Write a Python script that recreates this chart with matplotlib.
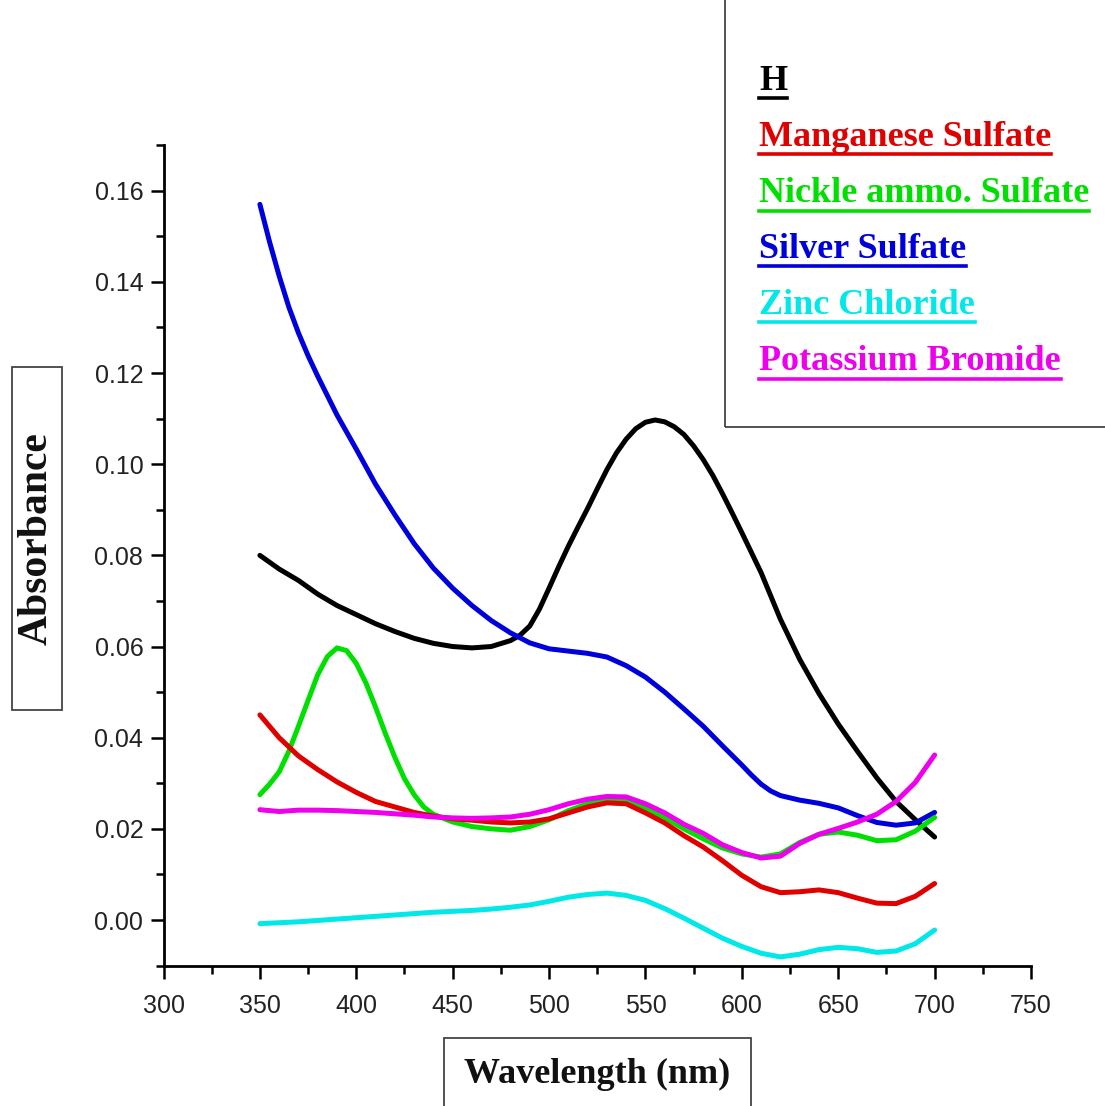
import matplotlib
matplotlib.use("Agg")
import matplotlib.pyplot as plt
from matplotlib import font_manager
from matplotlib.patches import Rectangle
from matplotlib.lines import Line2D
from matplotlib.ticker import MultipleLocator

# ---------------- data ----------------
wl = [350, 360, 370, 380, 390, 400, 410, 420, 430, 440, 450, 460, 470, 480, 490,
      500, 510, 520, 530, 540, 550, 560, 570, 580, 590, 600, 610, 620, 630, 640,
      650, 660, 670, 680, 690, 700]

wl_h = [350, 360, 370, 380, 390, 400, 410, 420, 430, 440, 450, 460, 470, 480, 485,
        490, 495, 500, 505, 510, 515, 520, 525, 530, 535, 540, 545, 550, 555, 560,
        565, 570, 575, 580, 585, 590, 595, 600, 610, 620, 630, 640, 650, 660, 670,
        680, 690, 700]
h_blank = [0.0800, 0.0770, 0.0745, 0.0715, 0.0690, 0.0670, 0.0650, 0.0633, 0.0618, 0.0607,
           0.0600, 0.0597, 0.0600, 0.0613, 0.0625, 0.0645, 0.0682, 0.0728, 0.0775, 0.0820,
           0.0862, 0.0903, 0.0946, 0.0988, 0.1025, 0.1055, 0.1078, 0.1092, 0.1097, 0.1093,
           0.1082, 0.1065, 0.1040, 0.1010, 0.0975, 0.0935, 0.0893, 0.0850, 0.0762, 0.0660,
           0.0572, 0.0497, 0.0430, 0.0370, 0.0312, 0.0260, 0.0220, 0.0182]

wl_ag = [350, 355, 360, 365, 370, 375, 380, 390, 400, 410, 420, 430, 440, 450, 460,
         470, 480, 490, 500, 510, 520, 530, 540, 550, 560, 570, 580, 590, 600, 605,
         610, 615, 620, 630, 640, 650, 660, 670, 680, 690, 700]
silver = [0.1570, 0.1488, 0.1413, 0.1345, 0.1288, 0.1238, 0.1193, 0.1108, 0.1033, 0.0956,
          0.0889, 0.0826, 0.0772, 0.0728, 0.0690, 0.0657, 0.0630, 0.0608, 0.0595, 0.0590,
          0.0585, 0.0577, 0.0558, 0.0533, 0.0500, 0.0463, 0.0425, 0.0382, 0.0340, 0.0318,
          0.0298, 0.0283, 0.0273, 0.0263, 0.0256, 0.0246, 0.0229, 0.0214, 0.0208, 0.0213,
          0.0236]

wl_ni = [350, 355, 360, 365, 370, 375, 380, 385, 390, 395, 400, 405, 410, 415, 420,
         425, 430, 435, 440, 450, 460, 470, 480, 490, 500, 510, 520, 530, 540, 550,
         560, 570, 580, 590, 600, 610, 620, 630, 640, 650, 660, 670, 680, 690, 700]
nickel = [0.0275, 0.0298, 0.0325, 0.0370, 0.0425, 0.0482, 0.0538, 0.0578, 0.0597, 0.0591,
          0.0563, 0.0520, 0.0467, 0.0410, 0.0357, 0.0310, 0.0275, 0.0248, 0.0232, 0.0215,
          0.0205, 0.0200, 0.0197, 0.0205, 0.0220, 0.0240, 0.0255, 0.0263, 0.0260, 0.0245,
          0.0225, 0.0200, 0.0178, 0.0158, 0.0145, 0.0138, 0.0145, 0.0170, 0.0188, 0.0193,
          0.0186, 0.0174, 0.0176, 0.0195, 0.0225]

manganese = [0.0450, 0.0400, 0.0360, 0.0330, 0.0303, 0.0280, 0.0260, 0.0248, 0.0236, 0.0228,
             0.0222, 0.0219, 0.0215, 0.0213, 0.0215, 0.0222, 0.0235, 0.0248, 0.0257, 0.0255,
             0.0235, 0.0213, 0.0185, 0.0160, 0.0130, 0.0098, 0.0073, 0.0060, 0.0062, 0.0066,
             0.0060, 0.0048, 0.0037, 0.0036, 0.0052, 0.0080]

zinc = [-0.0008, -0.0006, -0.0004, -0.0001, 0.0002, 0.0005, 0.0008, 0.0011, 0.0014, 0.0017,
        0.0019, 0.0021, 0.0024, 0.0028, 0.0033, 0.0041, 0.0050, 0.0056, 0.0059, 0.0054,
        0.0043, 0.0025, 0.0004, -0.0018, -0.0040, -0.0058, -0.0073, -0.0081, -0.0075, -0.0065,
        -0.0060, -0.0063, -0.0071, -0.0068, -0.0052, -0.0022]

potassium = [0.0242, 0.0238, 0.0241, 0.0241, 0.0240, 0.0238, 0.0236, 0.0233, 0.0230, 0.0226,
             0.0224, 0.0223, 0.0224, 0.0226, 0.0232, 0.0242, 0.0255, 0.0265, 0.0271, 0.0270,
             0.0255, 0.0235, 0.0210, 0.0190, 0.0165, 0.0148, 0.0136, 0.0140, 0.0168, 0.0188,
             0.0201, 0.0215, 0.0232, 0.0260, 0.0302, 0.0362]

legend_title = "H"
legend_labels = ["Manganese Sulfate", "Nickle ammo. Sulfate", "Silver Sulfate",
                 "Zinc Chloride", "Potassium Bromide"]

# ---------------- styling ----------------
C_BLACK = "#000000"
C_RED = "#e00000"
C_GREEN = "#00e000"
C_BLUE = "#0000dd"
C_CYAN = "#00e8e8"
C_MAG = "#ee00ee"

names = {f.name for f in font_manager.fontManager.ttflist}
tick_font = "Liberation Sans Narrow" if "Liberation Sans Narrow" in names else "Liberation Sans"
tick_size = 20 if tick_font == "Liberation Sans Narrow" else 18
serif = "Liberation Serif"

W, H = 1105, 1106
fig = plt.figure(figsize=(W / 100, H / 100), dpi=100)

def fx(px):
    return px / W

def fy(py):
    return 1 - py / H

ax_l, ax_r, ax_t, ax_b = 163.5, 1031.0, 145.0, 966.0
ax = fig.add_axes([fx(ax_l), fy(ax_b), fx(ax_r) - fx(ax_l), fy(ax_t) - fy(ax_b)])

lw = 3.6
kw = dict(lw=lw, solid_capstyle="round", solid_joinstyle="round")
ax.plot(wl_h, h_blank, color=C_BLACK, **kw)
ax.plot(wl_ag, silver, color=C_BLUE, **kw)
ax.plot(wl_ni, nickel, color=C_GREEN, **kw)
ax.plot(wl, manganese, color=C_RED, **kw)
ax.plot(wl, potassium, color=C_MAG, **kw)
ax.plot(wl, zinc, color=C_CYAN, **kw)

ax.set_xlim(300, 750)
ax.set_ylim(-(966 - 920) / 4558, (920 - 145) / 4558)

for s in ["top", "right"]:
    ax.spines[s].set_visible(False)
for s in ["left", "bottom"]:
    ax.spines[s].set_linewidth(2.0)

ax.xaxis.set_major_locator(MultipleLocator(50))
ax.xaxis.set_minor_locator(MultipleLocator(25))
ax.yaxis.set_major_locator(MultipleLocator(0.02))
ax.yaxis.set_minor_locator(MultipleLocator(0.01))
ax.tick_params(which="major", direction="out", length=9.5, width=1.8)
ax.tick_params(which="minor", direction="out", length=6, width=1.8)
ax.tick_params(axis="x", which="major", pad=11)
ax.tick_params(axis="y", which="major", pad=5)
ax.set_yticks([0.00, 0.02, 0.04, 0.06, 0.08, 0.10, 0.12, 0.14, 0.16])
ax.set_yticklabels(["0.00", "0.02", "0.04", "0.06", "0.08", "0.10", "0.12", "0.14", "0.16"])
for lab in ax.get_xticklabels() + ax.get_yticklabels():
    lab.set_fontfamily(tick_font)
    lab.set_fontsize(tick_size)
    lab.set_color("#222222")

# ---------------- axis label boxes ----------------
box_col = "#444444"
fig.add_artist(Rectangle((fx(12), fy(710)), fx(62) - fx(12), fy(367) - fy(710),
                         transform=fig.transFigure, fill=False, ec=box_col, lw=1.3))
fig.text(fx(37), fy(539), "Absorbance", rotation=90, ha="center", va="center",
         fontfamily=serif, fontweight="bold", fontsize=30, color="#111111")

fig.add_artist(Rectangle((fx(444), fy(1120)), fx(751) - fx(444), fy(1038) - fy(1120),
                         transform=fig.transFigure, fill=False, ec=box_col, lw=1.3, clip_on=False))
fig.text(fx(597), fy(1083), "Wavelength (nm)", ha="center", va="baseline",
         fontfamily=serif, fontweight="bold", fontsize=26, color="#111111")

# ---------------- legend box ----------------
fig.add_artist(Rectangle((fx(725), fy(427)), fx(1120) - fx(725), fy(-20) - fy(427),
                         transform=fig.transFigure, fill=False, ec=box_col, lw=1.3))

entries = [(legend_title, C_BLACK)] + list(zip(legend_labels, [C_RED, C_GREEN, C_BLUE, C_CYAN, C_MAG]))
underline_y = [98, 154, 210.5, 266, 322, 378.5]
texts = []
for (label, col), uy in zip(entries, underline_y):
    t = fig.text(fx(759), fy(uy - 8), label, ha="left", va="baseline",
                 fontfamily=serif, fontweight="bold", fontsize=26, color=col)
    texts.append((t, col, uy))

fig.canvas.draw()
renderer = fig.canvas.get_renderer()
for t, col, uy in texts:
    bb = t.get_window_extent(renderer)
    fig.add_artist(Line2D([bb.x0 / W, bb.x1 / W], [fy(uy), fy(uy)],
                          transform=fig.transFigure, color=col, lw=2.6))

fig.savefig("out.png", dpi=100)
